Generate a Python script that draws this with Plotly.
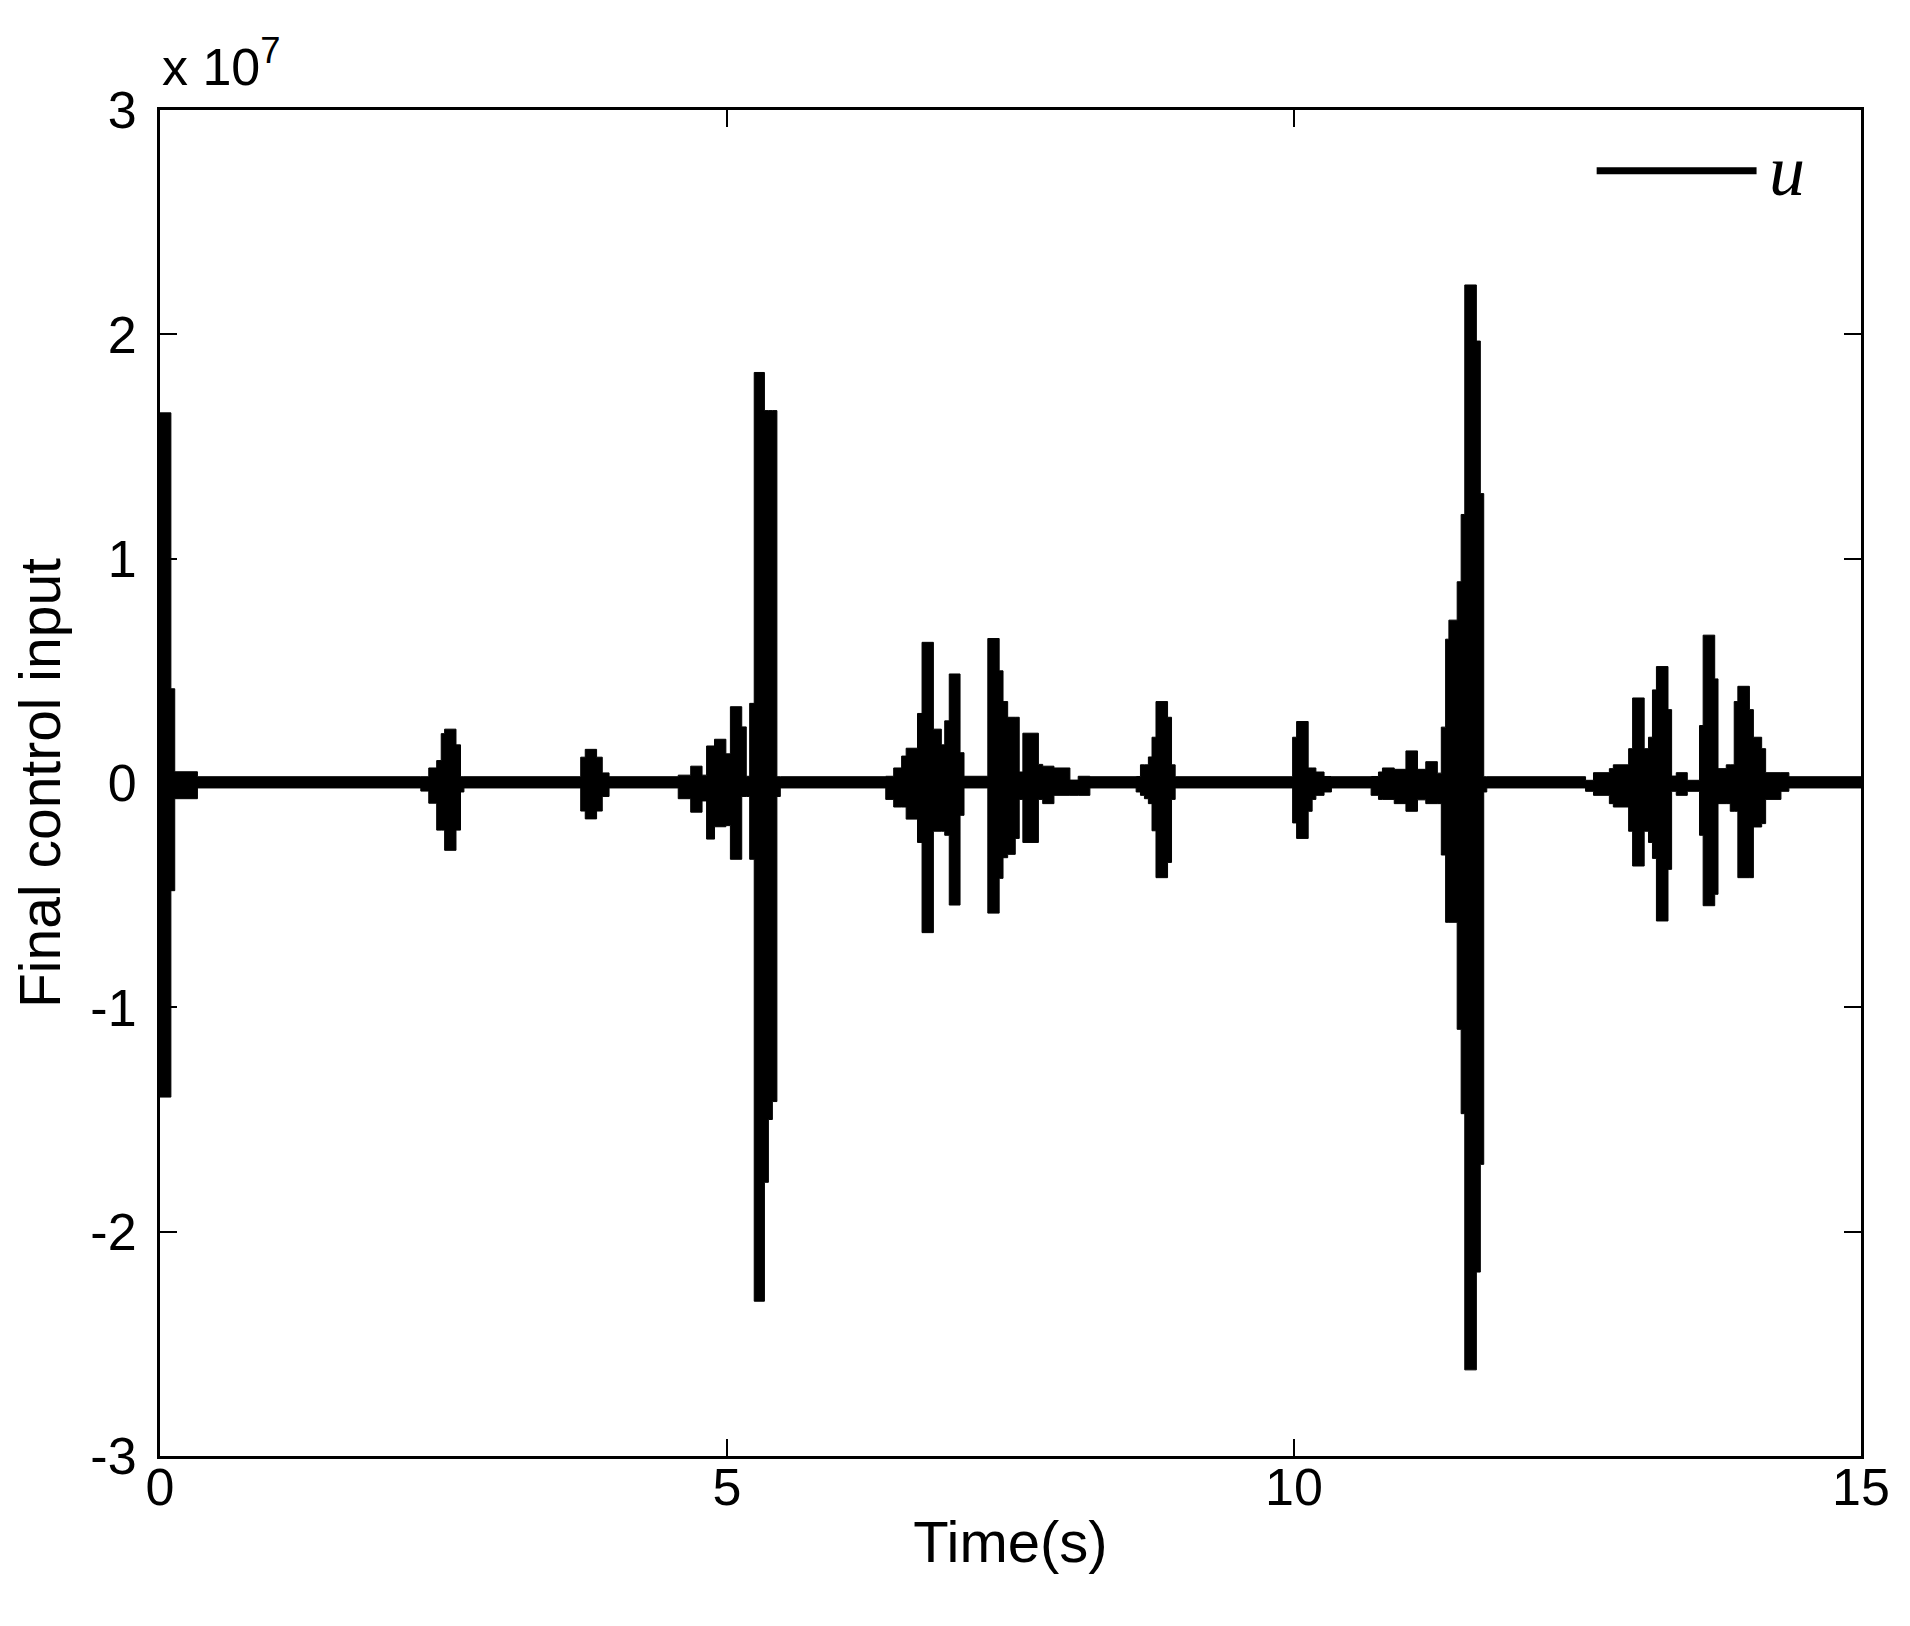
import plotly.graph_objects as go

# envelope of the control input u, in units of 1e7.
# each value holds from t_edge[i] until t_edge[i+1]
t_edge = [
    0.000, 0.096, 0.130, 0.330,
    2.300, 2.370, 2.440, 2.480, 2.510, 2.610, 2.650, 2.680,
    3.710, 3.750, 3.850, 3.900, 3.960,
    4.570, 4.680, 4.780, 4.820, 4.890, 4.990, 5.030, 5.130, 5.170, 5.200,
    5.240, 5.330, 5.365, 5.400, 5.440, 5.470,
    6.400, 6.470, 6.540, 6.580, 6.680, 6.720, 6.820, 6.890, 6.920, 6.960,
    7.055, 7.090, 7.300, 7.400, 7.434, 7.475, 7.542, 7.577, 7.609, 7.746,
    7.784, 7.883, 8.024, 8.097, 8.200,
    8.608, 8.646, 8.681, 8.716, 8.748, 8.783, 8.885, 8.920, 8.952,
    9.988, 10.023, 10.125, 10.160, 10.193, 10.265, 10.330,
    10.680, 10.745, 10.780, 10.884, 10.987, 11.089, 11.162, 11.264, 11.299,
    11.337, 11.366, 11.439, 11.474, 11.506, 11.608, 11.643, 11.673, 11.700,
    12.571, 12.641, 12.781, 12.816, 12.951, 12.986, 13.088, 13.126, 13.161,
    13.196, 13.298, 13.330, 13.371, 13.468, 13.576, 13.608, 13.710, 13.739,
    13.812, 13.847, 13.882, 13.914, 14.016, 14.051, 14.124, 14.159, 14.294,
    14.364, 15.000,
]
u_hi = [
    1.65, 0.42, 0.05, 0.028,
    0.028, 0.067, 0.10, 0.22, 0.24, 0.17, 0.028, 0.028,
    0.115, 0.15, 0.115, 0.045, 0.028,
    0.035, 0.075, 0.035, 0.165, 0.195, 0.13, 0.34, 0.25, 0.03, 0.355,
    1.83, 1.66, 1.66, 1.66, 0.028, 0.028,
    0.03, 0.067, 0.12, 0.155, 0.31, 0.627, 0.24, 0.17, 0.277, 0.486,
    0.135, 0.03, 0.644, 0.50, 0.363, 0.293, 0.293, 0.049, 0.222, 0.083,
    0.075, 0.067, 0.013, 0.03, 0.028,
    0.029, 0.081, 0.081, 0.116, 0.204, 0.363, 0.293, 0.081, 0.028,
    0.204, 0.274, 0.067, 0.067, 0.049, 0.029, 0.028,
    0.029, 0.049, 0.067, 0.061, 0.143, 0.061, 0.095, 0.044, 0.249,
    0.641, 0.726, 0.897, 1.197, 2.22, 1.97, 1.29, 0.028, 0.028,
    0.012, 0.046, 0.064, 0.081, 0.153, 0.379, 0.153, 0.204, 0.415,
    0.519, 0.327, 0.031, 0.046, 0.012, 0.256, 0.659, 0.464, 0.064,
    0.081, 0.081, 0.363, 0.431, 0.327, 0.204, 0.153, 0.046, 0.046,
    0.028, 0.028,
]
u_lo = [
    -1.40, -0.48, -0.07, -0.022,
    -0.036, -0.09, -0.21, -0.21, -0.30, -0.21, -0.04, -0.022,
    -0.125, -0.16, -0.125, -0.06, -0.022,
    -0.07, -0.13, -0.08, -0.25, -0.195, -0.19, -0.34, -0.06, -0.06, -0.34,
    -2.31, -1.78, -1.50, -1.42, -0.06, -0.022,
    -0.073, -0.107, -0.107, -0.161, -0.265, -0.667, -0.215, -0.215, -0.233, -0.544,
    -0.144, -0.022, -0.58, -0.425, -0.333, -0.318, -0.247, -0.073, -0.265, -0.073,
    -0.092, -0.055, -0.055, -0.055, -0.022,
    -0.04, -0.055, -0.07, -0.092, -0.213, -0.422, -0.354, -0.073, -0.022,
    -0.178, -0.247, -0.126, -0.073, -0.055, -0.04, -0.022,
    -0.055, -0.073, -0.073, -0.092, -0.126, -0.075, -0.092, -0.092, -0.321,
    -0.621, -0.621, -1.098, -1.474, -2.616, -2.18, -1.70, -0.04, -0.022,
    -0.037, -0.055, -0.092, -0.107, -0.215, -0.37, -0.215, -0.265, -0.336,
    -0.615, -0.385, -0.037, -0.055, -0.037, -0.233, -0.547, -0.496, -0.092,
    -0.092, -0.126, -0.126, -0.422, -0.422, -0.196, -0.181, -0.073, -0.037,
    -0.022, -0.022,
]

x_ticks = [0, 5, 10, 15]
y_ticks = [-3, -2, -1, 0, 1, 2, 3]
y_ticktext = ["-3", "-2", "-1", "0", "1", "2", "3"]

font = "Liberation Sans"

fig = go.Figure()
fig.add_trace(go.Scatter(x=t_edge, y=u_hi, mode="lines", line=dict(color="black", width=1, shape="hv"),
                         showlegend=False, hoverinfo="skip"))
fig.add_trace(go.Scatter(x=t_edge, y=u_lo, mode="lines", line=dict(color="black", width=1, shape="hv"),
                         fill="tonexty", fillcolor="black", showlegend=False, hoverinfo="skip"))

axis_style = dict(showline=True, linecolor="black", linewidth=3, mirror="ticks", ticks="inside",
                  ticklen=17, tickwidth=2, tickcolor="black", showgrid=False, zeroline=False,
                  tickfont=dict(family=font, size=52, color="black"))

fig.update_xaxes(range=[0, 15], tickvals=x_ticks, ticklabelstandoff=-16,
                 title=dict(text="Time(s)", font=dict(family=font, size=58, color="black"), standoff=6),
                 **axis_style)
fig.update_yaxes(range=[-3, 3], tickvals=y_ticks, ticktext=y_ticktext, ticklabelstandoff=10,
                 title=dict(text="Final control input", font=dict(family=font, size=57, color="black"), standoff=26),
                 **axis_style)

# exponent label, as MATLAB puts it above the y axis
fig.add_annotation(xref="paper", yref="paper", x=0, y=1, xanchor="left", yanchor="bottom", xshift=0, yshift=12,
                   text="x 10<sup>7</sup>", showarrow=False, font=dict(family=font, size=52, color="black"))

# legend drawn like MATLAB's: long line sample, italic u
fig.add_shape(type="line", xref="paper", yref="paper", x0=0.8446, x1=0.9386, y0=0.9548, y1=0.9548,
              line=dict(color="black", width=7))
fig.add_annotation(xref="paper", yref="paper", x=0.9446, y=0.9548, xanchor="left", yanchor="middle",
                   text="<i>u</i>", showarrow=False, font=dict(family="Liberation Serif", size=72, color="black"))

# page body keeps an 8px margin, so the figure is 16px smaller than the window
fig.update_layout(width=1894, height=1610, margin=dict(l=152, r=29, t=102, b=162),
                  plot_bgcolor="white", paper_bgcolor="white", showlegend=False)

fig.write_html("out.html")
